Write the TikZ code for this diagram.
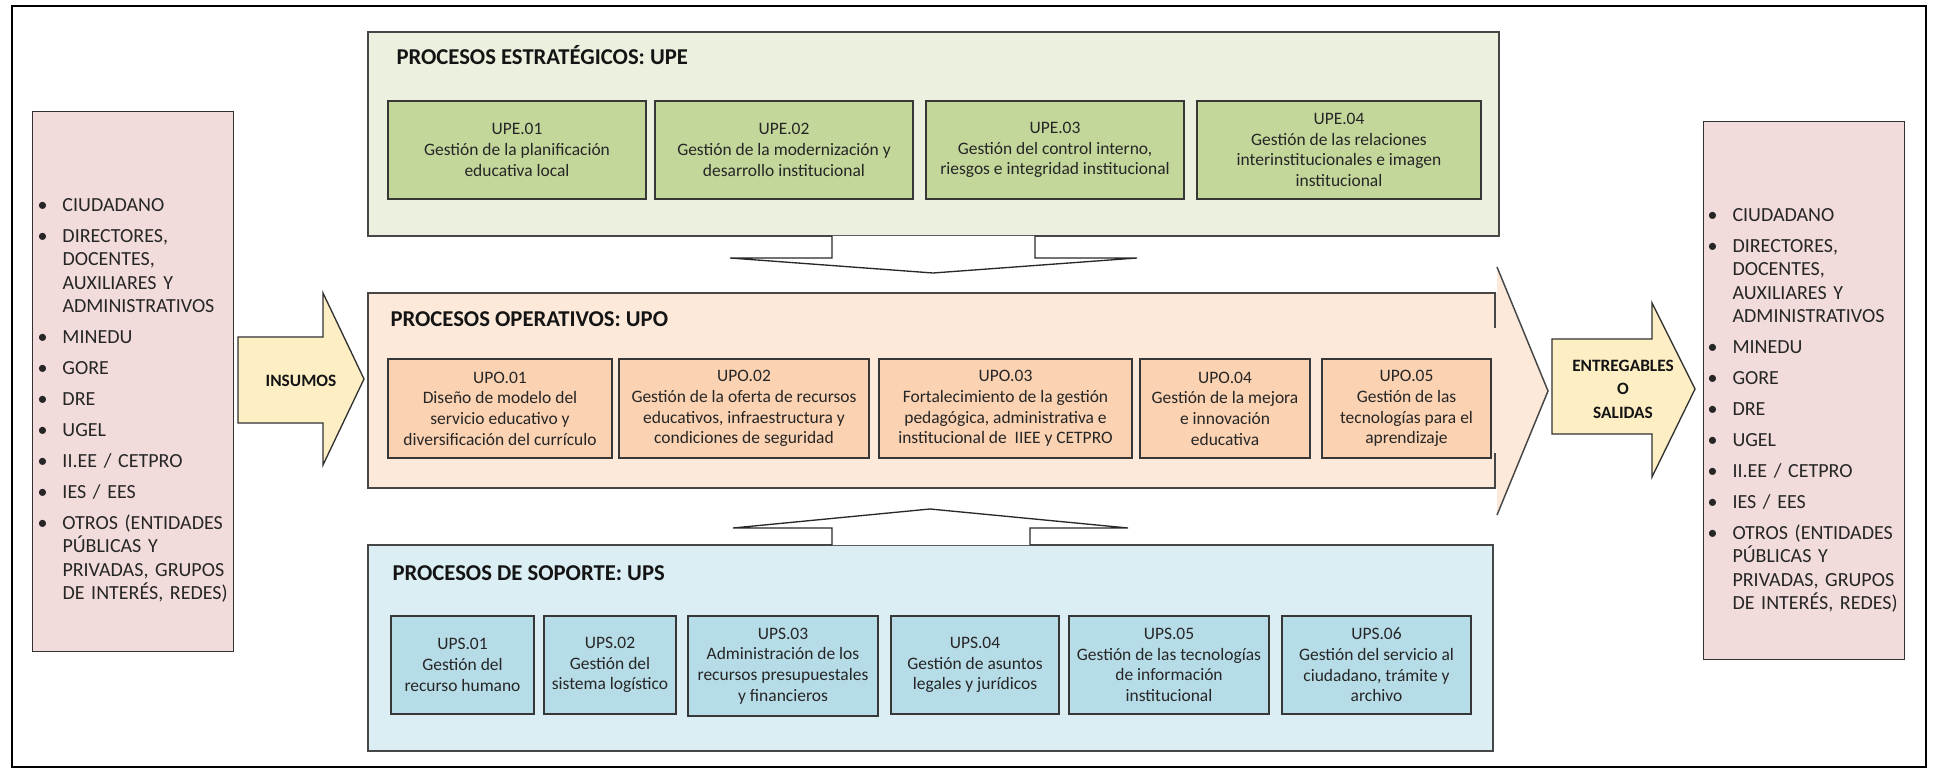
\documentclass[tikz,border=0pt]{standalone}
\usepackage{fontspec}
\setmainfont{Carlito}

\tikzset{every picture/.style={line width=0.75pt}}
\tikzset{
  boxtext/.style={text={rgb, 255:red, 38; green, 38; blue, 38}, font=\fontsize{13.1}{15.5}\selectfont, align=center, inner sep=0pt},
  upebox/.style={boxtext, draw={rgb, 255:red, 55; green, 55; blue, 55}, line width=1.1, fill={rgb, 255:red, 196; green, 215; blue, 155}, minimum height=73.5pt},
  upobox/.style={boxtext, draw={rgb, 255:red, 55; green, 55; blue, 55}, line width=1.1, fill={rgb, 255:red, 251; green, 210; blue, 178}, minimum height=74.25pt},
  upsbox/.style={boxtext, draw={rgb, 255:red, 55; green, 55; blue, 55}, line width=1.1, fill={rgb, 255:red, 182; green, 220; blue, 231}, minimum height=73.5pt},
  procframe/.style={draw={rgb, 255:red, 70; green, 70; blue, 70}, line width=1.1},
  upofill/.style={fill={rgb, 255:red, 253; green, 233; blue, 217}},
  proctitle/.style={anchor=base west, inner sep=0pt, font=\fontsize{17}{20}\selectfont\bfseries, text={rgb, 255:red, 20; green, 20; blue, 20}},
  arrowtext/.style={inner sep=0pt, align=center, font=\fontsize{13}{17.6}\selectfont\bfseries, text={rgb, 255:red, 20; green, 20; blue, 20}},
  actorbox/.style={draw={rgb, 255:red, 50; green, 50; blue, 50}, line width=1.1, fill={rgb, 255:red, 242; green, 220; blue, 219}, anchor=north west, inner sep=0pt, minimum width=150.75pt},
  actorlist/.style={anchor=north west, inner sep=0pt, text width=150pt, align=left, font=\fontsize{15}{17.5}\selectfont, text={rgb, 255:red, 38; green, 38; blue, 38}},
  inoutarrow/.style={draw={rgb, 255:red, 50; green, 50; blue, 50}, line width=1.0, fill={rgb, 255:red, 253; green, 238; blue, 196}},
  blockarrow/.style={draw={rgb, 255:red, 40; green, 40; blue, 40}, line width=1.0, fill=white},
}
\newcommand{\actor}[1]{\par\hangindent=18.75pt\hangafter=1\noindent\makebox[18.75pt][l]{\textbullet}#1}

\begin{document}
\begin{tikzpicture}[x=0.75pt,y=0.75pt,yscale=-1,xscale=1]
\useasboundingbox (0,0) rectangle (1934,773);

%Shape: Frame
\draw [line width=1.1] (12,6) rectangle (1926,767);

%Shape: Rectangle (entradas / salidas)
\draw (32,111) node [actorbox, minimum height=405pt] (insbox) {};
\draw (1703,121) node [actorbox, minimum height=403.5pt] (outbox) {};

%Shape: Right Arrow (insumos)
\draw [inoutarrow] (238,337) -- (323,337) -- (323,293) -- (364,379) -- (323,465) -- (323,423) -- (238,423) -- cycle ;
%Shape: Right Arrow (entregables)
\draw [inoutarrow] (1552,339) -- (1652,339) -- (1652,303) -- (1695,389) -- (1652,477) -- (1652,434) -- (1552,434) -- cycle ;

%Shape: Rectangle (estrategicos)
\draw [procframe, fill={rgb, 255:red, 235; green, 241; blue, 222}] (368,32) rectangle (1499,236) ;

%Shape: Right Arrow (operativos)
\fill [upofill] (1497,267) -- (1548,391) -- (1497,515) -- cycle ;
\fill [upofill] (368,293) rectangle (1497,488) ;
\draw [procframe] (1495,328) -- (1495,293) -- (368,293) -- (368,488) -- (1495,488) -- (1495,453) ;
\draw [procframe] (1497,267) -- (1548,391) -- (1497,515) ;

%Shape: Rectangle (soporte)
\draw [procframe, fill={rgb, 255:red, 218; green, 238; blue, 243}] (368,545) rectangle (1493,751) ;

%Shape: Down Arrow
\draw [blockarrow] (832,236) -- (832,258) -- (730,258) -- (933,273) -- (1137,258) -- (1035,258) -- (1035,236) ;
%Shape: Up Arrow
\draw [blockarrow] (832,545) -- (832,528) -- (733,528) -- (930,509) -- (1128,528) -- (1030,528) -- (1030,545) ;

% Text Node
\draw (396,65) node [proctitle] (upetitle) {PROCESOS ESTRATÉGICOS: UPE};
% Text Node
\draw (390,327) node [proctitle] (upotitle) {PROCESOS OPERATIVOS: UPO};
% Text Node
\draw (392,580) node [proctitle] (upstitle) {PROCESOS DE SOPORTE: UPS};

% Text Node
\draw (517,150) node [upebox, minimum width=193.5pt] (upe1) {UPE.01\\Gestión de la planificación\\educativa local};
\draw (784,150) node [upebox, minimum width=193.5pt] (upe2) {UPE.02\\Gestión de la modernización y\\desarrollo institucional};
\draw (1055,150) node [upebox, minimum width=193.5pt] (upe3) {UPE.03\\Gestión del control interno,\\riesgos e integridad institucional};
\draw (1339,150) node [upebox, minimum width=213pt] (upe4) {UPE.04\\Gestión de las relaciones\\interinstitucionales e imagen\\institucional};

% Text Node
\draw (500,408.5) node [upobox, minimum width=168pt] (upo1) {UPO.01\\Diseño de modelo del\\servicio educativo y\\diversificación del currículo};
\draw (744,408.5) node [upobox, minimum width=187.5pt] (upo2) {UPO.02\\Gestión de la oferta de recursos\\educativos, infraestructura y\\condiciones de seguridad};
\draw (1005.5,408.5) node [upobox, minimum width=189.75pt] (upo3) {UPO.03\\Fortalecimiento de la gestión\\pedagógica, administrativa e\\institucional de~~IIEE y CETPRO};
\draw (1225,408.5) node [upobox, minimum width=127.5pt] (upo4) {UPO.04\\Gestión de la mejora\\e innovación\\educativa};
\draw (1406.5,408.5) node [upobox, minimum width=126.75pt] (upo5) {UPO.05\\Gestión de las\\tecnologías para el\\aprendizaje};

% Text Node
\draw (462.5,665) node [upsbox, minimum width=107.25pt] (ups1) {UPS.01\\Gestión del\\recurso humano};
\draw (610,665) node [upsbox, minimum width=99pt] (ups2) {UPS.02\\Gestión del\\sistema logístico};
\draw (783,666) node [upsbox, minimum width=142.5pt, minimum height=75pt] (ups3) {UPS.03\\Administración de los\\recursos presupuestales\\y financieros};
\draw (975,665) node [upsbox, minimum width=126pt] (ups4) {UPS.04\\Gestión de asuntos\\legales y jurídicos};
\draw (1169,665) node [upsbox, minimum width=150pt] (ups5) {UPS.05\\Gestión de las tecnologías\\de información\\institucional};
\draw (1376.5,665) node [upsbox, minimum width=141.75pt] (ups6) {UPS.06\\Gestión del servicio al\\ciudadano, trámite y\\archivo};

% Text Node
\draw (301,381) node [arrowtext] (insumos) {INSUMOS};
\draw (1623,389) node [arrowtext] (salidas) {ENTREGABLES\\O\\SALIDAS};

% Text Node
\draw (37,180) node [actorlist] (inslist) {\setlength{\parskip}{5.75pt}%
\actor{CIUDADANO}
\actor{DIRECTORES,\newline DOCENTES,\newline AUXILIARES Y\newline ADMINISTRATIVOS}
\actor{MINEDU}
\actor{GORE}
\actor{DRE}
\actor{UGEL}
\actor{II.EE / CETPRO}
\actor{IES / EES}
\actor{OTROS (ENTIDADES\newline PÚBLICAS Y\newline PRIVADAS, GRUPOS\newline DE INTERÉS, REDES)}\par};
% Text Node
\draw (1707,190) node [actorlist] (outlist) {\setlength{\parskip}{5.75pt}%
\actor{CIUDADANO}
\actor{DIRECTORES,\newline DOCENTES,\newline AUXILIARES Y\newline ADMINISTRATIVOS}
\actor{MINEDU}
\actor{GORE}
\actor{DRE}
\actor{UGEL}
\actor{II.EE / CETPRO}
\actor{IES / EES}
\actor{OTROS (ENTIDADES\newline PÚBLICAS Y\newline PRIVADAS, GRUPOS\newline DE INTERÉS, REDES)}\par};

\end{tikzpicture}
\end{document}
